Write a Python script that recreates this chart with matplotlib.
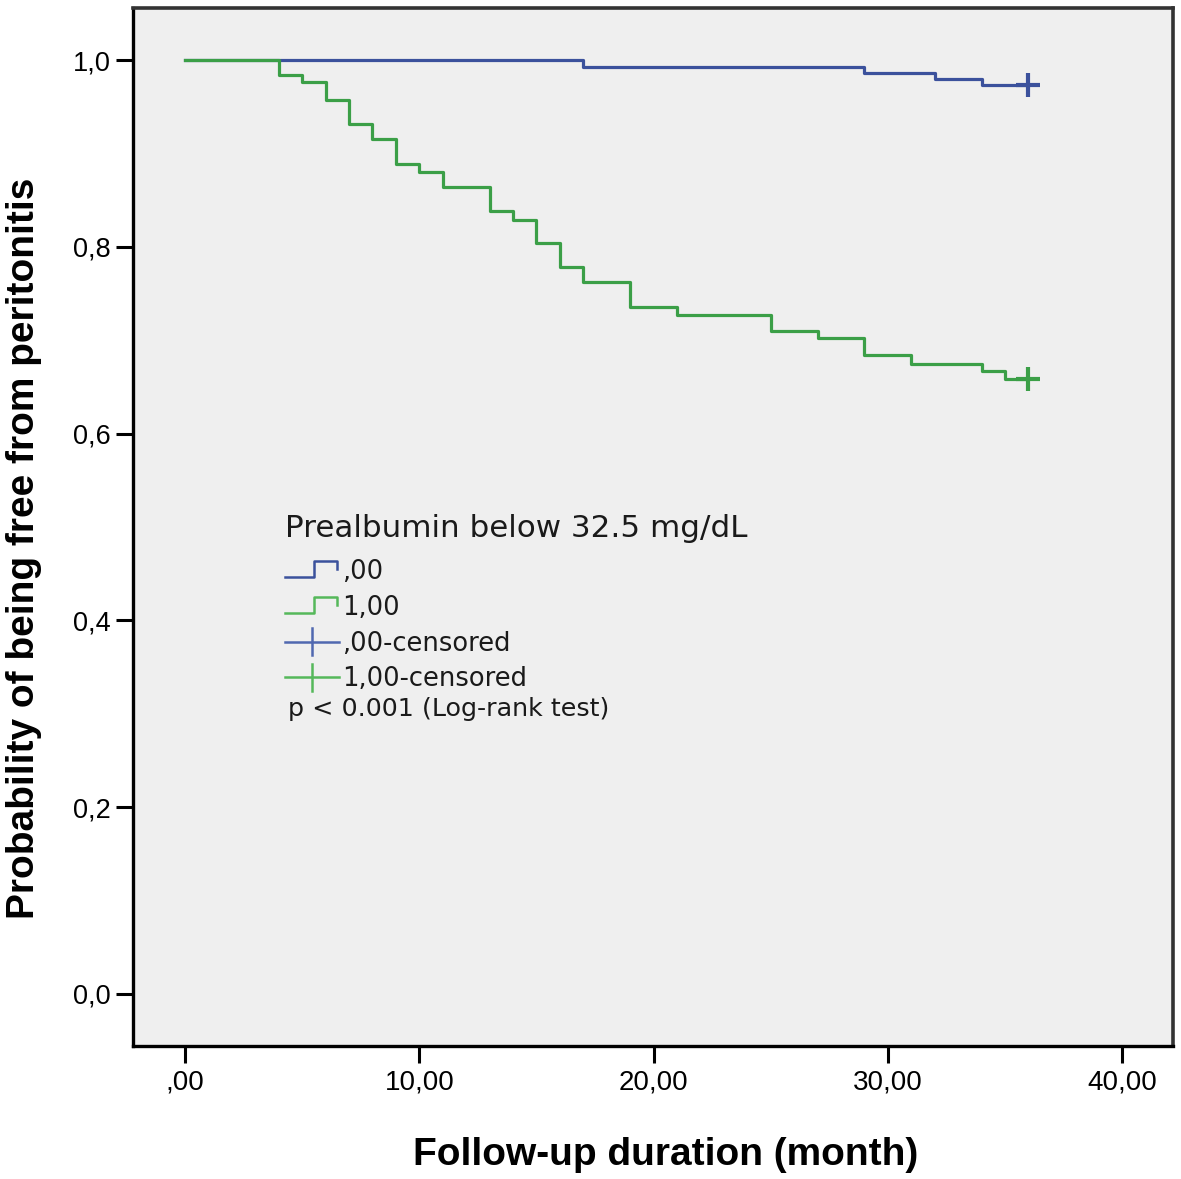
#!/usr/bin/env python3
"""
plot.py — Kaplan-Meier curves, peritonitis-free probability by prealbumin group
"""

import matplotlib
matplotlib.use("Agg")
import matplotlib.pyplot as plt
from matplotlib.legend_handler import HandlerBase
from matplotlib.lines import Line2D


# ============================================================
# Data
# ============================================================
# group ,00  (prealbumin >= 32.5)
blue_times = [0, 17, 29, 32, 34]
blue_surv = [1.000, 0.993, 0.986, 0.980, 0.973]

# group 1,00 (prealbumin < 32.5)
green_times = [0, 4, 5, 6, 7, 8, 9, 10, 11, 13, 14, 15, 16, 17, 19, 21, 25, 27, 29, 31, 34, 35]
green_surv = [1.000, 0.984, 0.976, 0.957, 0.932, 0.915, 0.889, 0.880, 0.864, 0.838, 0.829,
              0.804, 0.778, 0.762, 0.736, 0.727, 0.710, 0.702, 0.684, 0.675, 0.667, 0.658]

end_time = 36  # last follow-up, censored

x_ticks = [0, 10, 20, 30, 40]
x_ticklabels = [",00", "10,00", "20,00", "30,00", "40,00"]
y_ticks = [0.0, 0.2, 0.4, 0.6, 0.8, 1.0]
y_ticklabels = ["0,0", "0,2", "0,4", "0,6", "0,8", "1,0"]

legend_labels = [",00", "1,00", ",00-censored", "1,00-censored"]

BLUE = "#3b519c"
GREEN = "#3b9f47"
BLUE_LEG = "#5068b0"
GREEN_LEG = "#55b85a"

LEG_FONT = "DejaVu Sans"


# ============================================================
# Legend handlers (SPSS-style icons)
# ============================================================
class StepHandler(HandlerBase):
    def create_artists(self, legend, orig_handle, xdescent, ydescent,
                       width, height, fontsize, trans):
        x0, x1 = -xdescent, -xdescent + width
        y0, y1 = -ydescent, -ydescent + height
        xm = x0 + 0.55 * width
        xs = [x0, xm, xm, x1 - 1, x1 - 1]
        ys = [y0 + 0.1 * height, y0 + 0.1 * height, y1, y1, y0 + 0.55 * height]
        ln = Line2D(xs, ys, color=orig_handle.get_color(), lw=1.8,
                    solid_joinstyle="round", transform=trans)
        return [ln]


class CensorHandler(HandlerBase):
    def create_artists(self, legend, orig_handle, xdescent, ydescent,
                       width, height, fontsize, trans):
        x0, x1 = -xdescent, -xdescent + width
        y0, y1 = -ydescent, -ydescent + height
        ym = (y0 + y1) / 2
        xm = x0 + 0.5 * width
        h = Line2D([x0, x1], [ym, ym], color=orig_handle.get_color(), lw=1.8, transform=trans)
        v = Line2D([xm, xm], [y0 - 0.25 * height, y1 + 0.25 * height],
                   color=orig_handle.get_color(), lw=1.8, transform=trans)
        return [h, v]


# ============================================================
# Plot
# ============================================================
fig = plt.figure(figsize=(11.81, 11.79), dpi=100)
ax = fig.add_axes([0.1126, 0.1128, 0.8804, 0.8804])
ax.set_facecolor("#efefef")

for times, surv, col in [(blue_times, blue_surv, BLUE), (green_times, green_surv, GREEN)]:
    ax.step(times + [end_time], surv + [surv[-1]], where="post",
            color=col, lw=2.3, solid_joinstyle="round")
    ax.plot([end_time], [surv[-1]], marker="+", markersize=17, mew=3.0,
            color=col, linestyle="none")

ax.set_xlim(-2.22, 42.16)
ax.set_ylim(-0.0557, 1.0557)

ax.set_xticks(x_ticks)
ax.set_xticklabels(x_ticklabels, family="Liberation Sans", fontsize=20)
ax.set_yticks(y_ticks)
ax.set_yticklabels(y_ticklabels, family="Liberation Sans", fontsize=19.5)
ax.tick_params(axis="both", direction="out", length=12, width=2.2, colors="black")
ax.tick_params(axis="x", pad=5)
ax.tick_params(axis="y", pad=4)

for side in ["left", "bottom"]:
    ax.spines[side].set_linewidth(2.4)
    ax.spines[side].set_color("black")
for side in ["top", "right"]:
    ax.spines[side].set_linewidth(2.6)
    ax.spines[side].set_color("#333333")

ax.set_xlabel("Follow-up duration (month)", fontsize=28, fontweight="bold",
              family="Liberation Sans", labelpad=30)
ax.set_ylabel("Probability of being free from peritonitis", fontsize=28,
              fontweight="bold", family="Liberation Sans", labelpad=22)
ax.xaxis.label.set_x(0.512)
ax.yaxis.label.set_y(0.479)

# legend
handles = [Line2D([], [], color=BLUE), Line2D([], [], color=GREEN_LEG),
           Line2D([], [], color=BLUE_LEG, marker="+"), Line2D([], [], color=GREEN_LEG, marker="+")]
handler_map = {handles[0]: StepHandler(), handles[1]: StepHandler(),
               handles[2]: CensorHandler(), handles[3]: CensorHandler()}
leg = ax.legend(handles, legend_labels, handler_map=handler_map,
                loc="upper left", bbox_to_anchor=(0.146, 0.513),
                frameon=False, borderpad=0, borderaxespad=0,
                handlelength=2.1, handletextpad=0.12, labelspacing=0.38,
                title="Prealbumin below 32.5 mg/dL", alignment="left",
                prop={"family": LEG_FONT, "size": 18.5},
                title_fontproperties={"family": LEG_FONT, "size": 22.3})
leg._legend_box.sep = 12
for t in leg.get_texts():
    t.set_color("#1a1a1a")
leg.get_title().set_color("#1a1a1a")

ax.text(0.149, 0.325, "p < 0.001 (Log-rank test)", transform=ax.transAxes,
        family=LEG_FONT, fontsize=18.3, color="#1a1a1a", va="center", ha="left")

fig.savefig("out.png", dpi=100, facecolor="white")
plt.close(fig)
